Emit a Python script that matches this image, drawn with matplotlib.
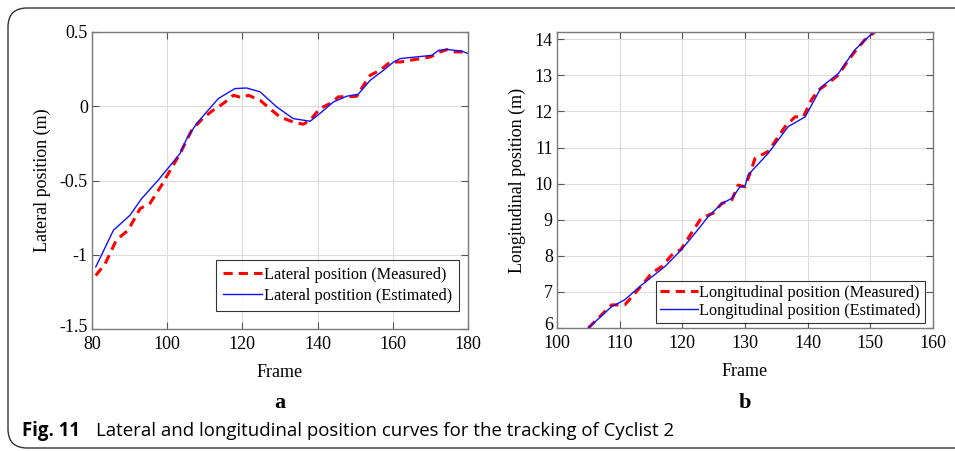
import numpy as np
import matplotlib
matplotlib.use("Agg")
from matplotlib import pyplot as plt
from matplotlib.patches import FancyBboxPatch
from matplotlib.transforms import ScaledTranslation

# lateral position (a)
lat_meas_f = [81, 83.5, 86.5, 89.6, 92.8, 95.4, 98.5, 100.3, 103.4, 106.5, 109.5, 112.2, 114.9,
              117.6, 119.8, 121.6, 124.7, 127.3, 130, 133.5, 136.2, 138, 140.6, 143.3, 145.5,
              150.4, 152.2, 154, 156.6, 159.3, 162, 170, 172.6, 174.4, 176.1, 178.3, 179.6]
lat_meas_v = [-1.14, -1.06, -0.90, -0.835, -0.689, -0.655, -0.532, -0.453, -0.319, -0.162, -0.08, -0.027, 0.018,
              0.074, 0.058, 0.074, 0.040, -0.016, -0.072, -0.106, -0.121, -0.094, -0.016, 0.018, 0.063,
              0.067, 0.141, 0.209, 0.242, 0.298, 0.298, 0.332, 0.366, 0.382, 0.366, 0.366, 0.343]
lat_est_f = [81, 85.7, 90.1, 93.2, 97.6, 103.4, 105.2, 107.8, 113.6, 118, 121.1, 124.7, 129.1,
             133.5, 138, 140.6, 144.2, 147.7, 150.8, 154, 157.5, 160.2, 162, 170.4, 172.2,
             174.4, 178.3, 180]
lat_est_v = [-1.082, -0.835, -0.734, -0.622, -0.498, -0.319, -0.218, -0.117, 0.052, 0.119, 0.123, 0.097, -0.004,
             -0.083, -0.101, -0.049, 0.029, 0.067, 0.081, 0.175, 0.242, 0.298, 0.321, 0.343, 0.377,
             0.382, 0.372, 0.355]

# longitudinal position (b)
lon_meas_f = [105, 108.7, 110.8, 112.2, 113.8, 115.1, 116.7, 118.3, 119.8, 120.9, 123, 124.9, 126.3,
              127.9, 128.9, 130, 131, 131.6, 133.7, 136.4, 138, 139.3, 140.6, 141.7, 143.3, 144.9,
              146.5, 147.5, 149.1, 150.7]
lon_meas_v = [6.0, 6.64, 6.64, 6.91, 7.24, 7.52, 7.70, 8.02, 8.18, 8.48, 9.04, 9.18, 9.45,
              9.55, 9.96, 9.91, 10.38, 10.70, 10.89, 11.58, 11.85, 11.85, 12.32, 12.59, 12.78, 13.01,
              13.42, 13.65, 13.98, 14.20]
lon_est_f = [105, 108.7, 110.8, 113.5, 117.2, 119.8, 122, 124.1, 126.3, 127.9, 129.2, 130, 130.5,
             133.7, 136.9, 139.6, 142.2, 144.9, 147.5, 150.5]
lon_est_v = [6.0, 6.59, 6.78, 7.19, 7.70, 8.16, 8.62, 9.08, 9.45, 9.59, 9.91, 9.93, 10.24,
             10.84, 11.58, 11.85, 12.68, 13.05, 13.70, 14.2]

plt.rcParams["font.family"] = ["Liberation Serif", "DejaVu Serif"]
plt.rcParams["font.size"] = 13

fig = plt.figure(figsize=(9.55, 4.51), dpi=100)
W, H = 955, 451

def add_ax(x0, y0, x1, y1):
    return fig.add_axes([x0 / W, 1 - y1 / H, (x1 - x0) / W, (y1 - y0) / H])

def style(ax):
    for s in ax.spines.values():
        s.set_color("#7a7a7a")
        s.set_linewidth(1.0)
    ax.tick_params(direction="in", top=True, right=True, length=5, color="#555555",
                   labelsize=13)
    ax.tick_params(axis="x", pad=5)
    ax.tick_params(axis="y", pad=3)
    ax.grid(True, color="#dcdcdc", linewidth=0.8)
    ax.set_axisbelow(True)

def lift_bottom_label(ax):
    # MATLAB style: lowest y tick label sits a bit above the x labels
    fig.canvas.draw()
    lab = ax.get_yticklabels()[0]
    lab.set_transform(lab.get_transform() + ScaledTranslation(0, 4 / 100, fig.dpi_scale_trans))

ax1 = add_ax(92, 32, 468, 329)
ax1.plot(lat_meas_f, lat_meas_v, "--", color="red", lw=2.2, dashes=(3, 2),
         label="Lateral position (Measured)")
ax1.plot(lat_est_f, lat_est_v, "-", color="#1010ff", lw=1.0,
         label="Lateral postition (Estimated)")
ax1.set_xlim(80, 180)
ax1.set_ylim(-1.5, 0.5)
ax1.set_xticks([80, 100, 120, 140, 160, 180])
ax1.set_yticks([-1.5, -1, -0.5, 0, 0.5])
ax1.set_yticklabels(["-1.5", "-1", "-0.5", "0", "0.5"])
style(ax1)
ax1.set_xlabel("Frame", fontsize=13, labelpad=8)
ax1.set_ylabel("Lateral position (m)", fontsize=13, labelpad=6)
leg = ax1.legend(loc="lower right", fontsize=11.7, fancybox=False, edgecolor="black",
                 bbox_to_anchor=(459 / W, 1 - 311 / H), bbox_transform=fig.transFigure,
                 borderaxespad=0, handlelength=2.4, borderpad=0.45, labelspacing=0.3,
                 handletextpad=0.1)
leg.get_frame().set_linewidth(0.8)

ax2 = add_ax(557, 32, 933, 328)
ax2.plot(lon_meas_f, lon_meas_v, "--", color="red", lw=2.2, dashes=(3, 2),
         label="Longitudinal position (Measured)")
ax2.plot(lon_est_f, lon_est_v, "-", color="#1010ff", lw=1.0,
         label="Longitudinal position (Estimated)")
ax2.set_xlim(100, 160)
ax2.set_ylim(6, 14.2)
ax2.set_xticks(range(100, 161, 10))
ax2.set_yticks(range(6, 15))
style(ax2)
ax2.set_xlabel("Frame", fontsize=13, labelpad=8)
ax2.set_ylabel("Longitudinal position (m)", fontsize=13, labelpad=6)
leg2 = ax2.legend(loc="lower right", fontsize=11.7, fancybox=False, edgecolor="black",
                  bbox_to_anchor=(925 / W, 1 - 323 / H), bbox_transform=fig.transFigure,
                  borderaxespad=0, handlelength=2.3, borderpad=0.25, labelspacing=0.12,
                  handletextpad=0.1)
leg2.get_frame().set_linewidth(0.8)

lift_bottom_label(ax1)
lift_bottom_label(ax2)

fig.text(280 / W, 1 - 403 / H, "a", fontsize=16, fontweight="bold", ha="center", va="center")
fig.text(745 / W, 1 - 403 / H, "b", fontsize=16, fontweight="bold", ha="center", va="center")
cap_font = ["Open Sans", "DejaVu Sans"]
fig.text(22 / W, 1 - 431 / H, "Fig. 11", fontsize=13.4, fontweight="bold", ha="left", va="center",
         family=cap_font)
fig.text(96 / W, 1 - 431 / H, "Lateral and longitudinal position curves for the tracking of Cyclist 2",
         fontsize=13.4, ha="left", va="center", family=cap_font)

frame = FancyBboxPatch((8 / W, 1 - 448 / H), 1.2, (448 - 8) / H,
                       boxstyle="round,pad=0,rounding_size=0.02", transform=fig.transFigure,
                       fill=False, edgecolor="#333333", linewidth=1.0, clip_on=False,
                       mutation_aspect=W / H)
fig.patches.append(frame)

fig.savefig("out.png", dpi=100)
